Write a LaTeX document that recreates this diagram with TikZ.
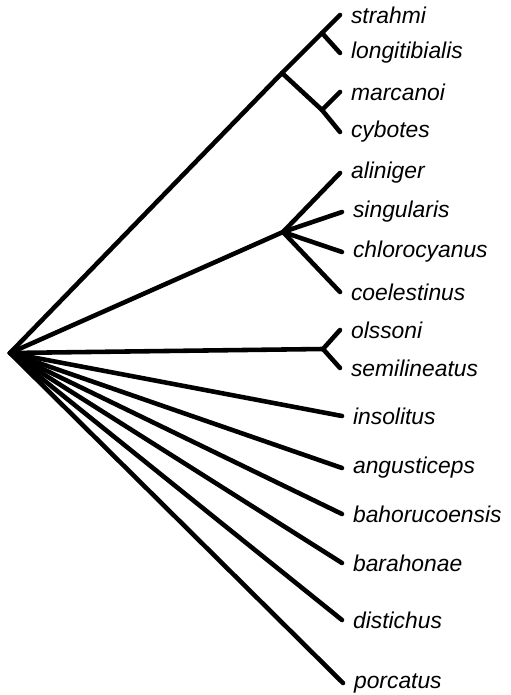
\documentclass[tikz,border=0pt]{standalone}
\usepackage{fontspec}
\setmainfont{Liberation Sans}
\usetikzlibrary{positioning}
\tikzset{
  every picture/.style={line width=2.6pt, line cap=round, line join=round},
  taxon/.style={font=\itshape\fontsize{13}{15}\selectfont, inner sep=0pt},
}

\begin{document}
\begin{tikzpicture}[x=0.02cm, y=-0.02cm]
  \useasboundingbox (0,0) rectangle (510,695);
  \coordinate (root) at (10,353);
  % inner nodes of the tree
  \coordinate (nA) at (282,73);
  \coordinate (nB) at (322,33);
  \coordinate (nC) at (322,110);
  \coordinate (nD) at (283,232);
  \coordinate (nE) at (323,349);
  % tips and species names
  \foreach \n/\x/\y/\name in {1/340/15/strahmi, 2/340/53/longitibialis, 3/340/92/marcanoi,
      4/340/132/cybotes, 5/340/173/aliniger, 6/342/212/singularis, 7/342/252/chlorocyanus,
      8/340/292/coelestinus, 9/340/330/olssoni, 10/340/368/semilineatus, 11/342/416/insolitus,
      12/342/468/angusticeps, 13/342/514/bahorucoensis, 14/342/563/barahonae,
      15/342/620/distichus, 16/343/683/porcatus} {
    \coordinate (t\n) at (\x,\y);
    \node[taxon, right=5pt of t\n] (lab\n) {\name};
  }
  % top clade
  \draw (root) -- (nA) -- (nB) -- (t1);
  \draw (nB) -- (t2);
  \draw (nA) -- (nC) -- (t4);
  \draw (nC) -- (t3);
  % four-way clade
  \draw (root) -- (nD);
  \foreach \n in {5,...,8}
    \draw (nD) -- (t\n);
  % pair
  \draw (root) -- (nE) -- (t9);
  \draw (nE) -- (t10);
  % single lines from the root
  \foreach \n in {11,...,16}
    \draw (root) -- (t\n);
\end{tikzpicture}
\end{document}
